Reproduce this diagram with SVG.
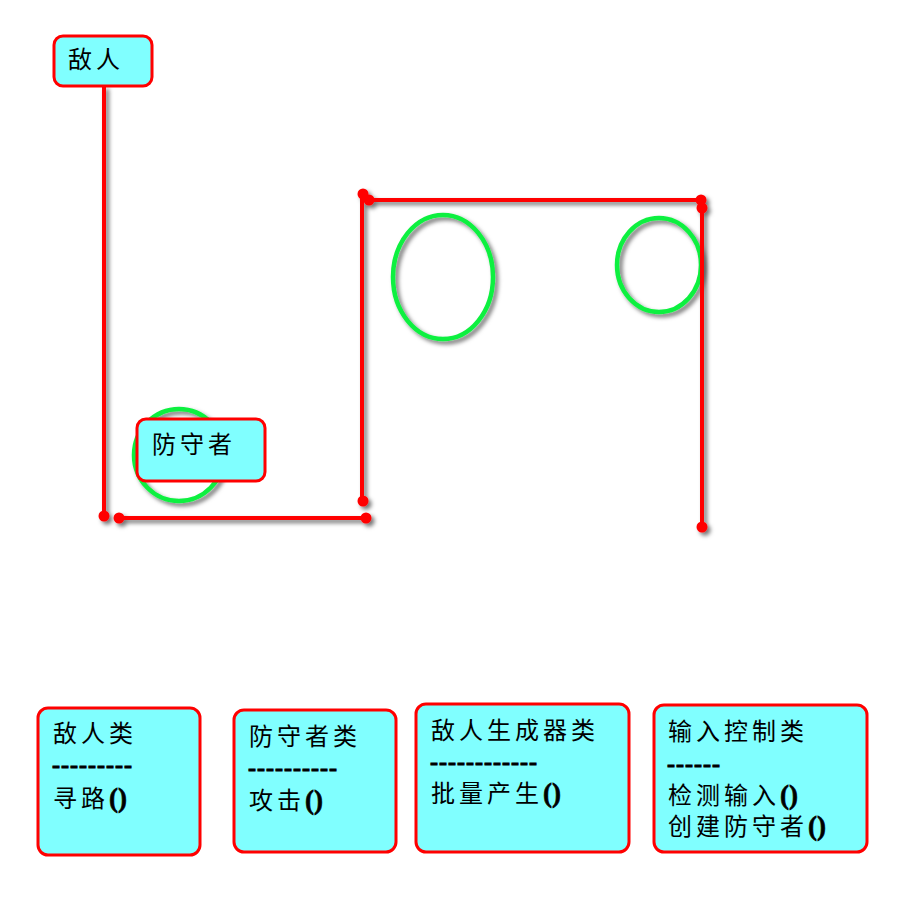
<svg xmlns="http://www.w3.org/2000/svg" width="921" height="902" viewBox="0 0 921 902">
<defs>
<filter id="sh" x="-20%" y="-20%" width="140%" height="140%">
<feDropShadow dx="3" dy="3" stdDeviation="2" flood-color="#000" flood-opacity="0.55"/>
</filter>
</defs>
<style>
.box{fill:#80FFFF;stroke:#FF0000;stroke-width:3}
.ln{stroke:#FF0000;stroke-width:4;fill:none}
.dot{fill:#FF0000}
.ell{fill:none;stroke:#11F040;stroke-width:4.5}
.t{font-family:"Liberation Serif","Noto Sans CJK SC",serif;font-size:24px;fill:#000;letter-spacing:4px}
.d{font-family:"Liberation Serif",serif;font-size:24px;font-weight:bold;fill:#000;stroke:#000;stroke-width:0.9;letter-spacing:1px}
.p{font-family:"Liberation Serif",serif;font-weight:bold;font-size:27px;stroke:#000;stroke-width:0.6;letter-spacing:0}
</style>
<rect width="921" height="902" fill="#FFFFFF"/>
<g id="regions" filter="url(#sh)">
<ellipse class="ell" cx="443" cy="277" rx="50" ry="62"/>
<ellipse class="ell" cx="659" cy="265" rx="42" ry="47"/>
<ellipse class="ell" cx="179" cy="455" rx="45" ry="46"/>
</g>
<g id="connectors" filter="url(#sh)">
<line class="ln" x1="104" y1="86" x2="104" y2="516"/>
<line class="ln" x1="119" y1="518" x2="366" y2="518"/>
<line class="ln" x1="362" y1="194" x2="362" y2="501"/>
<line class="ln" x1="369" y1="200" x2="701" y2="200"/>
<line class="ln" x1="702" y1="208" x2="702" y2="527"/>
<circle class="dot" cx="104" cy="516" r="5.5"/>
<circle class="dot" cx="119" cy="518" r="5.5"/>
<circle class="dot" cx="366" cy="518" r="5.5"/>
<circle class="dot" cx="363" cy="501" r="5.5"/>
<circle class="dot" cx="363" cy="194" r="5.5"/>
<circle class="dot" cx="369" cy="200" r="5.5"/>
<circle class="dot" cx="701" cy="200" r="5.5"/>
<circle class="dot" cx="702" cy="208" r="5.5"/>
<circle class="dot" cx="702" cy="527" r="5.5"/>
</g>
<g id="enemy">
<rect class="box" x="54" y="36" width="98" height="50" rx="9"/>
<text class="t" x="68" y="68">敌人</text>
</g>
<g id="defender">
<rect class="box" x="137" y="419" width="128" height="62" rx="9"/>
<text class="t" x="152" y="453">防守者</text>
</g>
<g id="enemy-class">
<rect class="box" x="38" y="708" width="162" height="147" rx="10"/>
<text class="t" x="53" y="742">敌人类</text>
<text class="d" x="52" y="773">---------</text>
<text class="t" x="53" y="807">寻路<tspan class="p">()</tspan></text>
</g>
<g id="defender-class">
<rect class="box" x="234" y="710" width="162" height="142" rx="10"/>
<text class="t" x="249" y="745">防守者类</text>
<text class="d" x="248" y="776">----------</text>
<text class="t" x="249" y="809">攻击<tspan class="p">()</tspan></text>
</g>
<g id="spawner-class">
<rect class="box" x="416" y="704" width="213" height="148" rx="10"/>
<text class="t" x="431" y="739">敌人生成器类</text>
<text class="d" x="430" y="770">------------</text>
<text class="t" x="431" y="802">批量产生<tspan class="p">()</tspan></text>
</g>
<g id="input-class">
<rect class="box" x="654" y="705" width="213" height="147" rx="10"/>
<text class="t" x="668" y="740">输入控制类</text>
<text class="d" x="667" y="772">------</text>
<text class="t" x="668" y="804">检测输入<tspan class="p">()</tspan></text>
<text class="t" x="668" y="835">创建防守者<tspan class="p">()</tspan></text>
</g>
</svg>
